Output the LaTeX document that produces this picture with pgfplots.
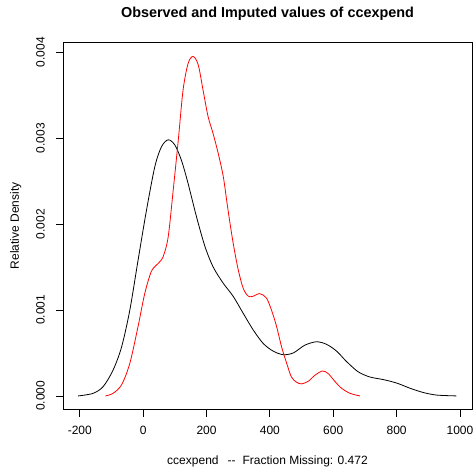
\documentclass[border=0pt]{standalone}
\usepackage{pgfplots}
\pgfplotsset{compat=1.18}
\usepackage{fontspec}
\setmainfont{Liberation Sans}
\begin{document}
\fontsize{12bp}{14bp}\selectfont
\begin{tikzpicture}
\useasboundingbox (-63bp,-57.5bp) rectangle (411bp,409.5bp);
\begin{axis}[
  at={(0,0)}, anchor=south west,
  scale only axis, width=409bp, height=367.5bp,
  xmin=-253, xmax=1038, ymin=-0.000158, ymax=0.004118,
  axis line style={line width=0.8bp},
  tick style={line width=0.8bp, black},
  tick align=outside, major tick length=7bp,
  xtick={-200,0,200,400,600,800,1000},
  ytick={0,0.001,0.002,0.003,0.004},
  xtick pos=bottom, ytick pos=left,
  scaled y ticks=false,
  /pgf/number format/assume math mode=true,
  /pgf/number format/set thousands separator={},
  yticklabel={\pgfmathprintnumber[fixed,precision=3,zerofill]{\tick}},
  xticklabel={\pgfmathprintnumber[int detect]{\tick}},
  yticklabel style={rotate=90, anchor=south, inner sep=0pt, yshift=11bp},
  xticklabel style={anchor=north, inner sep=0pt, yshift=-9bp},
  title={\fontsize{14.4bp}{16bp}\selectfont\bfseries Observed and Imputed values of ccexpend},
  title style={at={(axis description cs:0.5,1)}, anchor=base, yshift=19bp, inner sep=0pt},
  xlabel={ccexpend\hspace{9bp}{-}{-}\hspace{7bp}Fraction Missing: 0.472},
  xlabel style={at={(axis description cs:0.5,0)}, anchor=base, yshift=-54.5bp, inner sep=0pt},
  ylabel={Relative Density},
  ylabel style={at={(axis description cs:-0.1076,0.5)}, anchor=base, inner sep=0pt},
]
\addplot[black, line width=0.8bp, smooth, tension=0.5] coordinates {
(-205,0) (-158,0.00003) (-126,0.00011) (-95,0.0003) (-68,0.00057) (-42,0.001) (-16,0.00158)
(10.5,0.00216) (37,0.00267) (58,0.0029) (79,0.00298) (100,0.00292) (121,0.00274) (142,0.00247)
(168,0.00209) (195,0.00174) (221,0.0015) (253,0.00131) (284,0.00116) (316,0.00096) (347,0.00077)
(379,0.00061) (411,0.00052) (442,0.00048) (474,0.0005) (510,0.00059) (547,0.00063) (579,0.0006)
(611,0.00052) (642,0.0004) (679,0.00028) (716,0.00022) (758,0.00019) (800,0.00015) (842,0.00009)
(884,0.00004) (926,0.00001) (989,0)
};
\addplot[red, line width=0.8bp, smooth, tension=0.5] coordinates {
(-119,0) (-95,0.00003) (-68,0.00013) (-42,0.00038) (-16,0.00081) (5,0.00119) (26,0.00145)
(47,0.00154) (63,0.00162) (79,0.00185) (95,0.0024) (111,0.00298) (126,0.00356) (142,0.00387)
(158,0.00395) (174,0.00385) (189,0.00356) (205,0.00325) (221,0.00305) (237,0.00282) (253,0.00255)
(268,0.00216) (284,0.00178) (300,0.00147) (316,0.00125) (332,0.00116) (347,0.00116) (368,0.00119)
(389,0.00114) (405,0.001) (421,0.00081) (437,0.00057) (453,0.00038) (468,0.00022) (484,0.00016)
(500,0.00014) (521,0.00017) (542,0.00024) (566,0.00029) (584,0.00026) (605,0.00017) (626,0.00009)
(653,0.00003) (684,0)
};
\end{axis}
\end{tikzpicture}
\end{document}
